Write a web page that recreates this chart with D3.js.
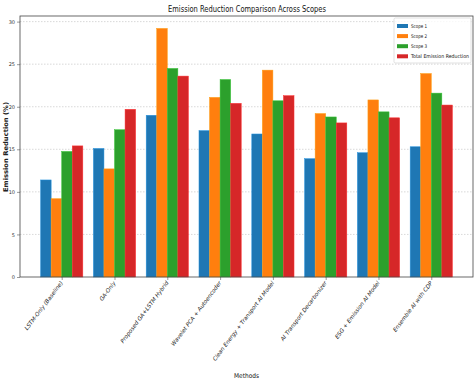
<!DOCTYPE html>
<html><head><meta charset="utf-8">
<script src="https://cdn.jsdelivr.net/npm/d3@7"></script>
<style>body{margin:0;background:#fff}svg{display:block}text{font-family:"DejaVu Sans",sans-serif}</style>
</head><body><svg id="c" width="475" height="381"></svg>
<script>
const methods = ["LSTM-Only (Baseline)","GA-Only","Proposed GA+LSTM Hybrid","Wavelet PCA + Autoencoder","Clean Energy + Transport AI Model","AI Transport Decarbonizer","ESG + Emission AI Model","Ensemble AI with CDP"];
const seriesNames = ["Scope 1","Scope 2","Scope 3","Total Emission Reduction"];
const scope1 = [11.4, 15.1, 19.0, 17.2, 16.8, 13.9, 14.6, 15.3];
const scope2 = [9.2, 12.7, 29.2, 21.1, 24.3, 19.2, 20.8, 23.9];
const scope3 = [14.75, 17.3, 24.5, 23.2, 20.7, 18.8, 19.4, 21.6];
const total = [15.4, 19.7, 23.6, 20.4, 21.3, 18.1, 18.7, 20.2];
const yTicks = [0,5,10,15,20,25,30];
const colors = ["#1f77b4","#ff7f0e","#2ca02c","#d62728"];
const series = [scope1, scope2, scope3, total];

const svg = d3.select("#c");
const L=20, R=473, T=16, B=277;
const barW = 0.2;
const x = d3.scaleLinear().domain([-0.79, methods.length-1+0.79]).range([L,R]);
const yMax = d3.max(series.flat())*1.05;
const y = d3.scaleLinear().domain([0, yMax]).range([B,T]);

// grid
svg.append("g").selectAll("line").data(yTicks.filter(d=>d>0)).join("line")
  .attr("x1",L).attr("x2",R).attr("y1",d=>y(d)).attr("y2",d=>y(d))
  .attr("stroke","#c8c8c8").attr("stroke-width",0.7).attr("stroke-dasharray","1.5,1.5");

// bars
series.forEach((vals,si)=>{
  svg.append("g").selectAll("rect").data(vals).join("rect")
    .attr("x",(d,i)=>x(i+(si-1.5)*barW-barW/2))
    .attr("width",x(barW)-x(0))
    .attr("y",d=>y(d)).attr("height",d=>y(0)-y(d))
    .attr("fill",colors[si]).attr("stroke",d3.color(colors[si]).brighter(0.6)).attr("stroke-width",0.5);
});

// axes
const yAxis = svg.append("g").attr("transform",`translate(${L},0)`)
  .call(d3.axisLeft(y).tickValues(yTicks).tickSize(3).tickPadding(2).tickFormat(d3.format("d")));
yAxis.select(".domain").remove();
yAxis.selectAll("line").attr("stroke","#555").attr("stroke-width",0.6);
yAxis.selectAll("text").attr("font-size",5).attr("fill","#333");

const xAxis = svg.append("g").attr("transform",`translate(0,${B})`)
  .call(d3.axisBottom(x).tickValues(d3.range(methods.length)).tickSize(3).tickFormat((d)=>methods[d]));
xAxis.select(".domain").remove();
xAxis.selectAll("line").attr("stroke","#555").attr("stroke-width",0.6);
xAxis.selectAll("text").attr("font-size",5.6).attr("fill","#222").attr("font-style","italic")
  .attr("text-anchor","end").attr("dy",0).attr("y",0)
  .attr("transform","translate(1,6) rotate(-53)");

// frame
svg.append("rect").attr("x",L).attr("y",T).attr("width",R-L).attr("height",B-T)
  .attr("fill","none").attr("stroke","#444").attr("stroke-width",0.8);

// title
svg.append("text").attr("x",247).attr("y",12).attr("text-anchor","middle")
  .attr("font-size",8).attr("textLength",158).attr("lengthAdjust","spacingAndGlyphs").attr("fill","#111")
  .text("Emission Reduction Comparison Across Scopes");
svg.append("text").attr("x",246.5).attr("y",378).attr("text-anchor","middle")
  .attr("font-size",6.5).attr("textLength",25).attr("lengthAdjust","spacingAndGlyphs").attr("fill","#111")
  .text("Methods");
svg.append("text").attr("transform","translate(7.5,147) rotate(-90)").attr("text-anchor","middle")
  .attr("font-size",6.5).attr("font-weight","bold").attr("textLength",90).attr("lengthAdjust","spacingAndGlyphs").attr("fill","#222")
  .text("Emission Reduction (%)");

// legend
const lg = svg.append("g");
lg.append("rect").attr("x",394).attr("y",18).attr("width",77).attr("height",45).attr("rx",1.5)
  .attr("fill","#fff").attr("fill-opacity",0.8).attr("stroke","#ccc").attr("stroke-width",0.6);
const legW = [16,16,16,58];
seriesNames.forEach((n,i)=>{
  const yy = 26 + i*10.1;
  lg.append("rect").attr("x",397).attr("y",yy-2).attr("width",11).attr("height",4).attr("fill",colors[i]);
  lg.append("text").attr("x",411).attr("y",yy+1.8).attr("font-size",5.2).attr("fill","#111")
    .attr("textLength",legW[i]).attr("lengthAdjust","spacingAndGlyphs").text(n);
});
</script></body></html>
